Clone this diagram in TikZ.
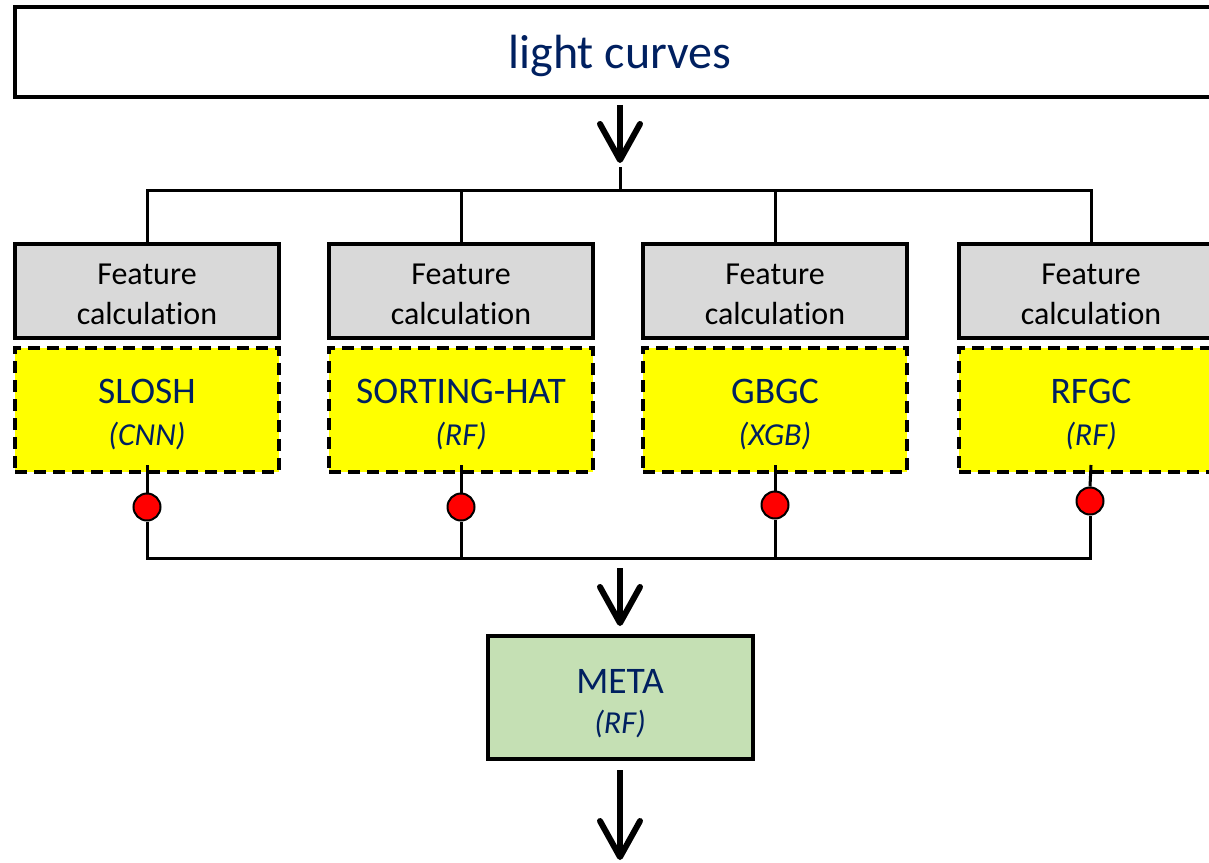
\documentclass[tikz,border=0pt]{standalone}
\usepackage{fontspec}
\setmainfont{Carlito}[Ligatures={NoCommon}]
\usetikzlibrary{arrows.meta}
\definecolor{navy}{HTML}{002060}
\definecolor{featgrey}{HTML}{D9D9D9}
\definecolor{modelyellow}{HTML}{FFFF00}
\definecolor{metagreen}{HTML}{C5E0B4}
\definecolor{dotred}{HTML}{FF0000}
\tikzset{
  topbox/.style={draw, line width=3.5pt, fill=white, minimum width=1210pt, minimum height=90pt, inner sep=0pt,
    text=navy, font=\fontsize{48}{56}\selectfont},
  featbox/.style={draw, line width=4pt, fill=featgrey, minimum width=264pt, minimum height=94pt, inner sep=0pt,
    align=center, font=\fontsize{32}{40}\selectfont},
  modelbox/.style={draw, line width=4pt, dash pattern=on 12pt off 7pt, fill=modelyellow, minimum width=264pt,
    minimum height=124pt, inner sep=0pt, align=center, text=navy, font=\fontsize{37.5}{42}\selectfont},
  metabox/.style={draw, line width=4pt, fill=metagreen, minimum width=265pt, minimum height=123pt, inner sep=0pt,
    align=center, text=navy, font=\fontsize{37.5}{40}\selectfont},
  reddot/.style={circle, draw, line width=2pt, fill=dotred, minimum size=27pt, inner sep=0pt},
  busline/.style={line width=3pt},
  bigarrow/.style={line width=6pt, -{Straight Barb[length=36pt,width=40pt,round]}},
}
\newcommand{\modelsub}[1]{{\fontsize{32}{41}\selectfont\itshape #1}}
\newcommand{\strutof}[1]{\rule{0pt}{#1}}
\begin{document}
\begin{tikzpicture}[x=1pt,y=-1pt]
\useasboundingbox (0,0) rectangle (1209,862);
\clip (0,0) rectangle (1209,862);
% boxes
\node[topbox] (top) at (620,52) {\strutof{42pt}light curves};
\node[featbox] (f1) at (147,291) {\strutof{28pt}Feature\\calculation};
\node[featbox] (f2) at (461,291) {\strutof{28pt}Feature\\calculation};
\node[featbox] (f3) at (775,291) {\strutof{28pt}Feature\\calculation};
\node[featbox] (f4) at (1091,291) {\strutof{28pt}Feature\\calculation};
\node[modelbox] (m1) at (147,410) {\strutof{34pt}SLOSH\\\modelsub{(CNN)}};
\node[modelbox] (m2) at (461,410) {\strutof{34pt}SORTING-HAT\\\modelsub{(RF)}};
\node[modelbox] (m3) at (775,410) {\strutof{34pt}GBGC\\\modelsub{(XGB)}};
\node[modelbox] (m4) at (1091,410) {\strutof{34pt}RFGC\\\modelsub{(RF)}};
\node[metabox] (meta) at (620,697.5) {\strutof{36pt}META\\\modelsub{(RF)}};
% junctions
\coordinate (tb) at (620,190);
\coordinate (bb) at (620,558);
\coordinate (out) at (620,860);
% red dots
\node[reddot] (d1) at (147,507) {};
\node[reddot] (d2) at (461,507) {};
\node[reddot] (d3) at (775,505) {};
\node[reddot] (d4) at (1090,501) {};
% top distribution
\draw[bigarrow] ([yshift=-6pt]top.south) -- ([yshift=27pt]tb);
\draw[busline] (tb) -- ([yshift=23pt]tb);
\draw[busline] (f1.north) -- (f1.north |- tb) -- (f4.north |- tb) -- (f4.north);
\draw[busline] (f2.north) -- (f2.north |- tb);
\draw[busline] (f3.north) -- (f3.north |- tb);
% model outputs
\draw[busline] ([yshift=9pt]m1.south) -- (d1.north);
\draw[busline] ([yshift=9pt]m2.south) -- (d2.north);
\draw[busline] ([yshift=9pt]m3.south) -- (d3.north);
\draw[busline] ([yshift=9pt]m4.south) -- (d4.north);
\draw[busline] (d1.south) -- (d1 |- bb) -- (d4 |- bb) -- (d4.south);
\draw[busline] (d2.south) -- (d2 |- bb);
\draw[busline] (d3.south) -- (d3 |- bb);
% meta arrows
\draw[bigarrow] ([yshift=-10pt]bb) -- ([yshift=8pt]meta.north);
\draw[bigarrow] ([yshift=-9pt]meta.south) -- (out);
\end{tikzpicture}
\end{document}
